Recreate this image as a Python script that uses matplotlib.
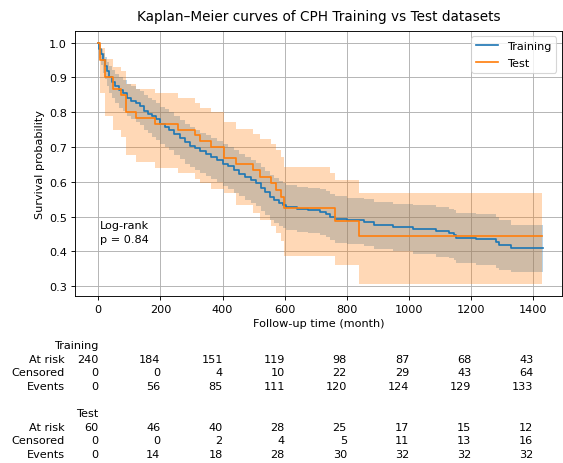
import matplotlib
matplotlib.use("Agg")
import matplotlib.pyplot as plt
import matplotlib.transforms as mtransforms

# ---------------- data ----------------
train_time = [0, 3, 8, 14, 20, 27, 36, 45, 55, 66, 79, 92, 105, 120, 133, 146, 160, 173, 186,
              200, 215, 229, 245, 262, 278, 294, 310, 328, 347, 364, 383, 401, 418, 436, 454,
              472, 490, 508, 522, 537, 551, 566, 580, 594, 605, 640, 674, 712, 733, 744, 760,
              800, 856, 888, 947, 1012, 1087, 1130, 1146, 1151, 1215, 1280, 1290, 1328, 1430]
train_surv = [1.000, 0.983, 0.967, 0.950, 0.933, 0.917, 0.900, 0.888, 0.875, 0.863, 0.854, 0.842,
              0.833, 0.825, 0.817, 0.804, 0.796, 0.788, 0.779, 0.767, 0.758, 0.750, 0.738, 0.725,
              0.713, 0.704, 0.696, 0.688, 0.679, 0.671, 0.663, 0.652, 0.644, 0.633, 0.623, 0.613,
              0.604, 0.595, 0.582, 0.570, 0.557, 0.548, 0.540, 0.533, 0.527, 0.523, 0.519, 0.514,
              0.508, 0.500, 0.493, 0.489, 0.484, 0.476, 0.470, 0.464, 0.457, 0.454, 0.448, 0.439,
              0.434, 0.427, 0.419, 0.410, 0.410]
train_ci_lower = [1.000, 0.957, 0.935, 0.914, 0.894, 0.874, 0.855, 0.841, 0.827, 0.813, 0.803,
                  0.790, 0.780, 0.771, 0.762, 0.748, 0.739, 0.730, 0.721, 0.708, 0.699, 0.690,
                  0.678, 0.664, 0.652, 0.642, 0.634, 0.626, 0.616, 0.608, 0.599, 0.588, 0.580,
                  0.569, 0.558, 0.548, 0.539, 0.530, 0.516, 0.504, 0.491, 0.482, 0.474, 0.466,
                  0.460, 0.456, 0.452, 0.446, 0.440, 0.432, 0.425, 0.420, 0.415, 0.406, 0.400,
                  0.393, 0.385, 0.381, 0.375, 0.366, 0.360, 0.352, 0.346, 0.341, 0.341]
train_ci_upper = [1.000, 0.994, 0.983, 0.971, 0.958, 0.945, 0.932, 0.922, 0.911, 0.900, 0.892,
                  0.881, 0.874, 0.867, 0.860, 0.849, 0.842, 0.835, 0.827, 0.816, 0.808, 0.800,
                  0.789, 0.777, 0.765, 0.757, 0.749, 0.741, 0.733, 0.725, 0.718, 0.708, 0.700,
                  0.690, 0.681, 0.672, 0.663, 0.655, 0.643, 0.631, 0.619, 0.610, 0.603, 0.596,
                  0.590, 0.586, 0.582, 0.578, 0.572, 0.565, 0.558, 0.554, 0.550, 0.542, 0.537,
                  0.532, 0.526, 0.523, 0.518, 0.510, 0.506, 0.500, 0.490, 0.476, 0.476]

test_time = [0, 5, 20, 47, 74, 90, 122, 181, 258, 310, 326, 363, 406, 444, 497, 519, 556,
             572, 588, 599, 744, 760, 840, 1428]
test_surv = [1.000, 0.950, 0.900, 0.867, 0.850, 0.800, 0.783, 0.767, 0.750, 0.733, 0.717,
             0.700, 0.667, 0.650, 0.633, 0.614, 0.595, 0.576, 0.557, 0.524, 0.524, 0.486,
             0.443, 0.443]
test_ci_lower = [1.000, 0.855, 0.790, 0.750, 0.730, 0.676, 0.658, 0.640, 0.624, 0.607, 0.595,
                 0.580, 0.567, 0.533, 0.510, 0.491, 0.472, 0.453, 0.430, 0.386, 0.386, 0.362,
                 0.306, 0.306]
test_ci_upper = [1.000, 0.984, 0.954, 0.931, 0.919, 0.881, 0.867, 0.854, 0.841, 0.827, 0.813,
                 0.800, 0.772, 0.751, 0.737, 0.723, 0.709, 0.690, 0.671, 0.642, 0.624, 0.604,
                 0.567, 0.567]

risk_times = [0, 200, 400, 600, 800, 1000, 1200, 1400]
train_at_risk = [240, 184, 151, 119, 98, 87, 68, 43]
train_censored = [0, 0, 4, 10, 22, 29, 43, 64]
train_events = [0, 56, 85, 111, 120, 124, 129, 133]
test_at_risk = [60, 46, 40, 28, 25, 17, 15, 12]
test_censored = [0, 0, 2, 4, 5, 11, 13, 16]
test_events = [0, 14, 18, 28, 30, 32, 32, 32]
row_names = ["At risk", "Censored", "Events"]
group_names = ["Training", "Test"]
logrank_p = 0.84

# ---------------- figure ----------------
DPI = 81.4
W, H = 563, 464
fig = plt.figure(figsize=(W / DPI, H / DPI), dpi=DPI)
ax = fig.add_axes([75 / W, 1 - 297 / H, 487 / W, (297 - 31.6) / H])

ax.plot(train_time, train_surv, drawstyle="steps-post", color="C0", lw=1.5, label="Training")
ax.fill_between(train_time, train_ci_lower, train_ci_upper, step="post",
                color="C0", alpha=0.3, linewidth=0)
ax.plot(test_time, test_surv, drawstyle="steps-post", color="C1", lw=1.5, label="Test")
ax.fill_between(test_time, test_ci_lower, test_ci_upper, step="post",
                color="C1", alpha=0.3, linewidth=0)

ax.set_xlim(-75, 1492)
ax.set_ylim(0.2715, 1.0345)
ax.set_xticks(risk_times)
ax.set_yticks([0.3, 0.4, 0.5, 0.6, 0.7, 0.8, 0.9, 1.0])
ax.grid(True)
ax.set_axisbelow(True)
ax.set_title("Kaplan–Meier curves of CPH Training vs Test datasets", pad=9)
ax.set_xlabel("Follow-up time (month)")
ax.set_ylabel("Survival probability")
ax.legend(loc="upper right", labelspacing=0.65)

ax.text(0.052, (297 - 221.5) / 265.4, f"Log-rank\np = {logrank_p:.2f}",
        transform=ax.transAxes, ha="left", va="top", linespacing=1.45)

# ---------------- at-risk table ----------------
trans = mtransforms.blended_transform_factory(ax.transData, fig.transFigure)
row_step = 13.6
first_center = 345.0
cap_half = 4.1


def fig_y(k):
    return 1 - (first_center + cap_half + k * row_step) / H


groups = [(train_at_risk, train_censored, train_events),
          (test_at_risk, test_censored, test_events)]
for g, (risk, cens, evts) in enumerate(groups):
    base = g * 5
    ax.text(risk_times[0], fig_y(base), group_names[g], transform=trans,
            ha="right", va="baseline", clip_on=False)
    for r, (name, vals) in enumerate(zip(row_names, (risk, cens, evts))):
        k = base + 1 + r
        fig.text(65 / W, fig_y(k), name, ha="right", va="baseline")
        for t, v in zip(risk_times, vals):
            ax.text(t, fig_y(k), str(v), transform=trans, ha="right", va="baseline",
                    clip_on=False)

fig.savefig("out.png", dpi=DPI)
